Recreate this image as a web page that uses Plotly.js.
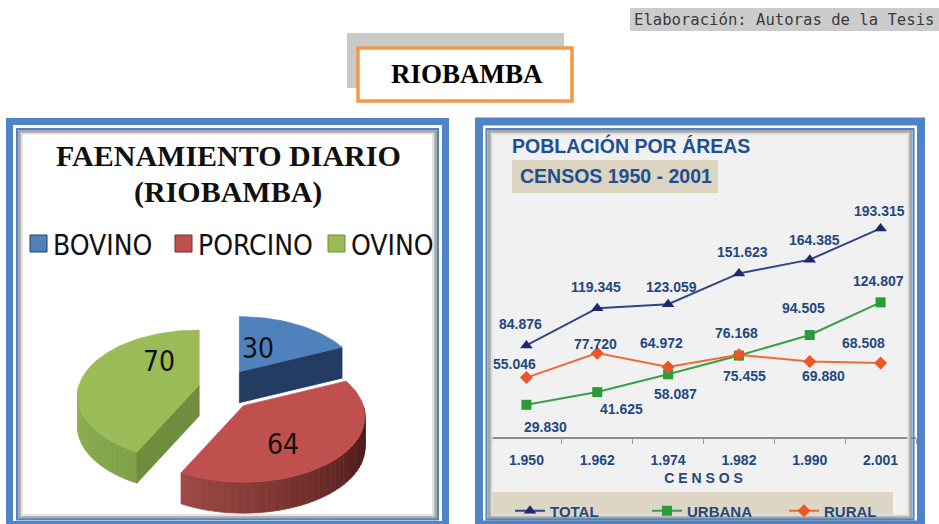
<!DOCTYPE html>
<html><head><meta charset="utf-8">
<script src="https://cdn.plot.ly/plotly-3.0.1.min.js"></script>
<style>html,body{margin:0;padding:0;background:#fff;overflow:hidden}#chart{width:939px;height:524px}</style>
</head><body><div id="chart"></div>
<script>
// ---------------- DATA ----------------
const pieCategories = ['BOVINO', 'PORCINO', 'OVINO'];
const pieValues = [30, 64, 70];

const censusYears = [1950, 1962, 1974, 1982, 1990, 2001];
const popTotal  = [84876, 119345, 123059, 151623, 164385, 193315];
const popUrbana = [29830, 41625, 58087, 75455, 94505, 124807];
const popRural  = [55046, 77720, 64972, 76168, 69880, 68508];
const seriesNames = ['TOTAL', 'URBANA', 'RURAL'];

// ---------------- STYLE ----------------
const W = 939, H = 524;
const SERIF = '"Liberation Serif", "Times New Roman", serif';
const SANS = '"Liberation Sans", Arial, sans-serif';
const NARROW = '"Liberation Sans Narrow", "DejaVu Sans Condensed", "Open Sans", sans-serif';
const GEOM = '"DejaVu Sans Mono", monospace';
const BLUE_FRAME = '#4f85c8';
const NAVY_TXT = '#24487e';
const TITLE_BLUE = '#1f4f93';

const pieTop = ['#4f81bd', '#c0504d', '#9bbb59'];
const pieCut = ['#243c62', '#7a2a28', '#6f8d3d'];
const pieWallLight = ['#4f81bd', '#d66a63', '#90b354'];
const pieWallDark = ['#1f3356', '#3a1010', '#5d7c2e'];
const PIE = {cx: 225, cy: 390, rx: 120, ry: 64, persp: 0.163, depth: 31, pullX: 26.5, pullY: 21.8, labelR: 0.45};
const pieLabelNudge = [[-9, 0], [0, 17], [12, -17]];
const pieLegendX = [30, 175, 328];

const lineColors = ['#34448a', '#3c9f48', '#f06a38'];
const markerColors = ['#1c2a6c', '#2b9a3b', '#ee5526'];
const markerSymbols = ['triangle-up', 'square', 'diamond'];
const labelShift = [
  [[-6,-21],[-1,-21],[3,-17],[4,-21],[5,-20],[-1,-17]],
  [[19,22],[24,17],[7,20],[6,20],[-6,-27],[-2,-21]],
  [[-12,-14],[-2,-9],[-7,-24],[-2,-22],[14,14],[-17,-20]]
];

// ---------------- HELPERS ----------------
const fmt = v => String(v).replace(/\B(?=(\d{3})+(?!\d))/g, '.');
const px = x => x / W;
const py = y => 1 - y / H;
function rect(x0, y0, x1, y1, o) {
  return Object.assign({type: 'rect', xref: 'paper', yref: 'paper',
    x0: px(x0), x1: px(x1), y0: py(y1), y1: py(y0), layer: 'below',
    line: {width: 0}, fillcolor: 'rgba(0,0,0,0)'}, o || {});
}
function hex2rgb(h) { h = h.replace('#',''); return [0,2,4].map(i => parseInt(h.substr(i,2),16)); }
function mix(a, b, t) {
  const A = hex2rgb(a), B = hex2rgb(b);
  return 'rgb(' + A.map((c,i) => Math.round(c + (B[i]-c)*t)).join(',') + ')';
}
const rad = d => d * Math.PI / 180;
function proj(ax, ay, th, r, h) {
  const u = r * Math.sin(rad(th)), v = r * Math.cos(rad(th));
  const s = 1 / (1 + PIE.persp * v);
  return [ax + PIE.rx * u * s, ay - PIE.ry * v * s + h * PIE.depth];
}
function polyTrace(pts, color, name) {
  return {type: 'scatter', mode: 'lines', x: pts.map(p => p[0]).concat([pts[0][0]]),
    y: pts.map(p => p[1]).concat([pts[0][1]]), fill: 'toself', fillcolor: color,
    line: {color: color, width: 0.7}, xaxis: 'x2', yaxis: 'y2', hoverinfo: 'skip',
    showlegend: false, name: name};
}

// ---------------- PIE (3D exploded, built from pieValues) ----------------
const traces = [];
const annotations = [];
const totalPie = pieValues.reduce((a, b) => a + b, 0);
let cum = 0;
const slices = pieValues.map((v, i) => {
  const a1 = 360 * cum / totalPie; cum += v;
  const a2 = 360 * cum / totalPie;
  const mid = (a1 + a2) / 2;
  return {i, v, a1, a2, mid,
    ax: PIE.cx + PIE.pullX * Math.sin(rad(mid)),
    ay: PIE.cy - PIE.pullY * Math.cos(rad(mid))};
});
slices.slice().sort((p, q) => p.ay - q.ay).forEach(s => {
  const name = pieCategories[s.i];
  const lo = Math.max(s.a1, 90), hi = Math.min(s.a2, 270);
  if (hi > lo) {
    const n = Math.ceil((hi - lo) / 3);
    for (let k = 0; k < n; k++) {
      const t0 = lo + (hi - lo) * k / n, t1 = lo + (hi - lo) * (k + 1) / n;
      const tm = (t0 + t1) / 2;
      traces.push(polyTrace([proj(s.ax, s.ay, t0, 1, 0), proj(s.ax, s.ay, t1, 1, 0),
        proj(s.ax, s.ay, t1, 1, 1), proj(s.ax, s.ay, t0, 1, 1)],
        mix(pieWallLight[s.i], pieWallDark[s.i], (270 - tm) / 180), name));
    }
  }
  [[s.a1, s.a1 - 90], [s.a2, s.a2 + 90]].forEach(([edge, normal]) => {
    if (Math.cos(rad(normal)) < -0.02) {
      traces.push(polyTrace([[s.ax, s.ay], proj(s.ax, s.ay, edge, 1, 0),
        proj(s.ax, s.ay, edge, 1, 1), [s.ax, s.ay + PIE.depth]], pieCut[s.i], name));
    }
  });
  const pts = [[s.ax, s.ay]];
  const n = Math.ceil((s.a2 - s.a1) / 2);
  for (let k = 0; k <= n; k++) pts.push(proj(s.ax, s.ay, s.a1 + (s.a2 - s.a1) * k / n, 1, 0));
  traces.push(polyTrace(pts, pieTop[s.i], name));
  const lp = proj(s.ax, s.ay, s.mid, PIE.labelR, 0);
  annotations.push({xref: 'x2', yref: 'y2', x: lp[0] + pieLabelNudge[s.i][0], y: lp[1] + pieLabelNudge[s.i][1],
    text: String(s.v), showarrow: false, font: {family: NARROW, size: 28, color: '#111'}});
});

// ---------------- LINE CHART ----------------
const cats = censusYears.map(fmt);
const series = [popTotal, popUrbana, popRural];
series.forEach((vals, si) => {
  traces.push({type: 'scatter', mode: 'lines+markers', name: seriesNames[si],
    x: cats, y: vals, xaxis: 'x', yaxis: 'y', cliponaxis: false,
    line: {color: lineColors[si], width: 2},
    marker: {symbol: markerSymbols[si], size: si === 0 ? 11 : 10, color: markerColors[si]},
    hoverinfo: 'x+y'});
  vals.forEach((v, i) => {
    annotations.push({xref: 'x', yref: 'y', x: i, y: v, text: '<b>' + fmt(v) + '</b>',
      showarrow: false, xshift: labelShift[si][i][0], yshift: -labelShift[si][i][1],
      font: {family: SANS, size: 14, color: NAVY_TXT}});
  });
});

// ---------------- DECORATION ----------------
const shapes = [
  rect(630, 8, 960, 31, {fillcolor: '#cccccc'}),
  rect(347, 33, 564, 88, {fillcolor: '#c9c9c9'}),
  rect(358, 48, 572, 101, {fillcolor: '#ffffff', line: {color: '#f79646', width: 3.5}}),
  rect(16, 128, 439, 521, {fillcolor: '#ffffff'}),
  rect(485, 128, 915, 521, {fillcolor: '#f1f1f1'}),
  rect(512, 160, 718, 193, {fillcolor: '#dcd3c0'}),
  rect(490, 492, 893, 530, {fillcolor: '#ddd6c4'})
];
pieCategories.forEach((c, i) => {
  shapes.push(rect(pieLegendX[i], 235, pieLegendX[i] + 17, 252,
    {fillcolor: pieTop[i], line: {color: pieCut[i], width: 1}}));
  annotations.push({xref: 'paper', yref: 'paper', x: px(pieLegendX[i] + 21), y: py(245),
    xanchor: 'left', yanchor: 'middle', text: c, showarrow: false,
    font: {family: NARROW, size: 28, color: '#111'}});
});
[[18, 130, 437, 519], [488, 130, 912, 519]].forEach(b => {
  shapes.push(rect(b[0]+1, b[1]+1, b[2]-1, b[3]-1, {layer: 'above', line: {color: '#8a8a8a', width: 1.5}}));
  shapes.push(rect(b[0]+2.5, b[1]+2.5, b[2]-2.5, b[3]-2.5, {layer: 'above', line: {color: '#b8b8b8', width: 1.5}}));
  shapes.push(rect(b[0]+4, b[1]+4, b[2]-4, b[3]-4, {layer: 'above', line: {color: '#dedede', width: 1.5}}));
});
shapes.push(rect(9.5, 121.5, 445.5, 524.5, {layer: 'above', line: {color: BLUE_FRAME, width: 7}}));
shapes.push(rect(17, 129, 438, 519.5, {layer: 'above', line: {color: BLUE_FRAME, width: 2}}));
shapes.push(rect(479, 121.5, 921, 524.5, {layer: 'above', line: {color: BLUE_FRAME, width: 8}}));
shapes.push(rect(486.5, 129, 913.5, 519.5, {layer: 'above', line: {color: BLUE_FRAME, width: 2}}));

const paperText = (x, y, text, font, xanchor) => ({xref: 'paper', yref: 'paper', x: px(x), y: py(y),
  xanchor: xanchor || 'center', yanchor: 'middle', text: text, showarrow: false, font: font});
annotations.push(paperText(632, 20, 'Elaboración: Autoras de la Tesis', {family: GEOM, size: 15.6, color: '#3a3a3a'}, 'left'));
annotations.push(paperText(467, 74, '<b>RIOBAMBA</b>', {family: SERIF, size: 27, color: '#000'}));
annotations.push(paperText(228, 156, '<b>FAENAMIENTO DIARIO</b>', {family: SERIF, size: 30, color: '#111'}));
annotations.push(paperText(228, 192, '<b>(RIOBAMBA)</b>', {family: SERIF, size: 30, color: '#111'}));
annotations.push(paperText(510, 146, '<b>POBLACIÓN POR ÁREAS</b>', {family: SANS, size: 19.5, color: TITLE_BLUE}, 'left'));
annotations.push(paperText(518, 176, '<b>CENSOS 1950 - 2001</b>', {family: SANS, size: 19.5, color: TITLE_BLUE}, 'left'));

const layout = {
  width: W, height: H, margin: {l: 0, r: 0, t: 0, b: 0, pad: 0, autoexpand: false},
  paper_bgcolor: '#ffffff', plot_bgcolor: 'rgba(0,0,0,0)',
  showlegend: true,
  xaxis: {domain: [491 / W, 916 / W], type: 'category', range: [-0.5, 5.5], anchor: 'y',
    showline: true, linecolor: '#8c8c8c', linewidth: 1.5, ticks: 'outside', tickson: 'boundaries',
    ticklen: 5, tickcolor: '#9a9a9a', showgrid: false, zeroline: false, fixedrange: true,
    tickfont: {family: SANS, size: 14, color: NAVY_TXT, weight: 'bold'}, ticklabelstandoff: 10,
    title: {text: 'C E N S O S', font: {family: SANS, size: 14, color: NAVY_TXT, weight: 'bold'}, standoff: 6}},
  yaxis: {domain: [(H - 437) / H, (H - 221.2) / H], range: [0, 200000], visible: false, fixedrange: true, anchor: 'x'},
  xaxis2: {domain: [0, 1], range: [0, W], visible: false, fixedrange: true, anchor: 'y2'},
  yaxis2: {domain: [0, 1], range: [H, 0], visible: false, fixedrange: true, anchor: 'x2'},
  legend: {orientation: 'h', x: px(510), y: py(511), xanchor: 'left', yanchor: 'middle',
    bgcolor: 'rgba(0,0,0,0)', font: {family: SANS, size: 15, color: NAVY_TXT, weight: 'bold'},
    entrywidth: 92, traceorder: 'normal'},
  shapes: shapes, annotations: annotations
};
Plotly.newPlot('chart', traces, layout, {staticPlot: true, displayModeBar: false});
</script></body></html>
